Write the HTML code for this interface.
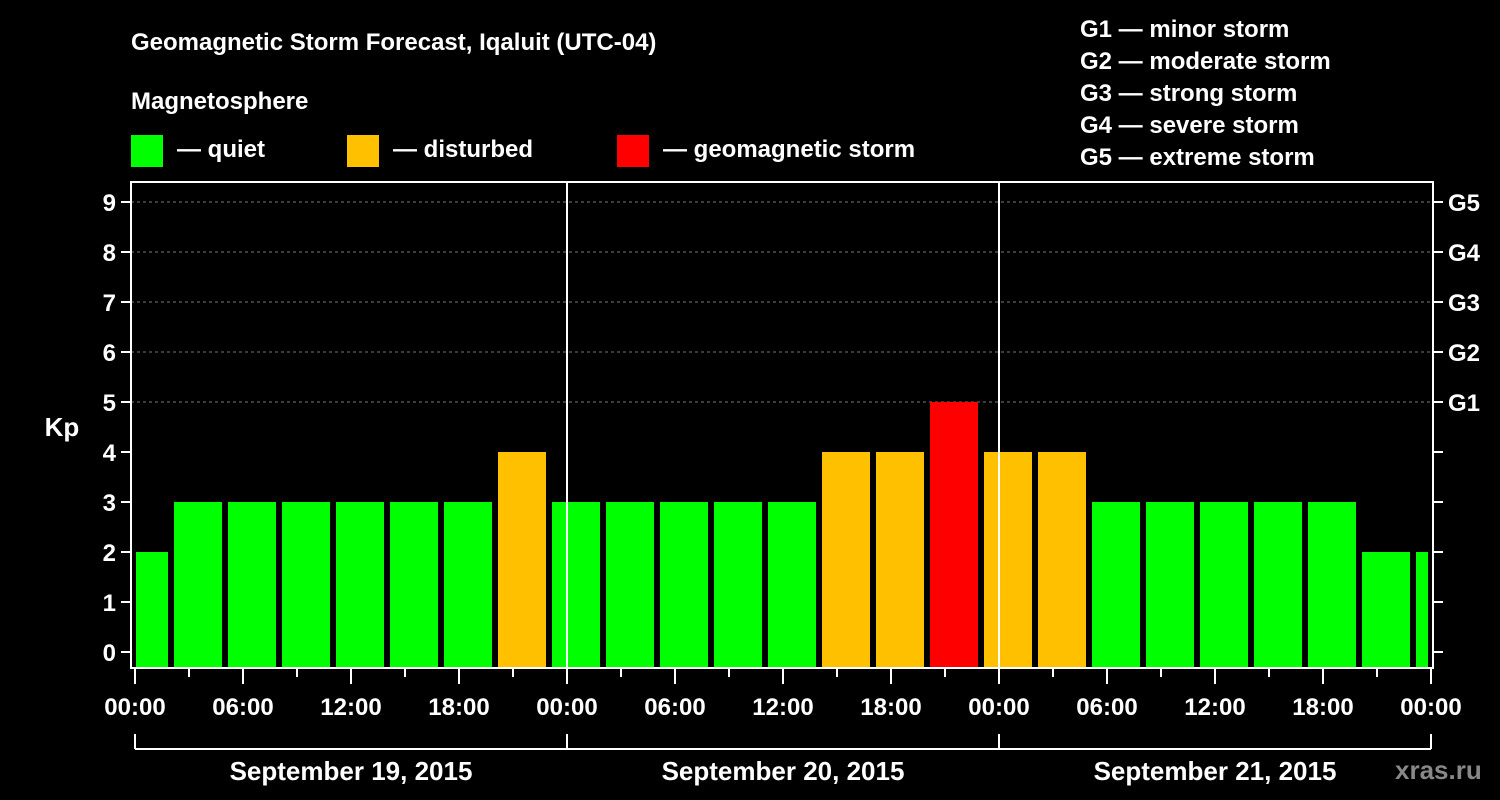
<!DOCTYPE html>
<html><head><meta charset="utf-8"><style>
body{margin:0;background:#000;}
svg{display:block;font-family:"Liberation Sans",sans-serif;font-weight:bold;}
</style></head><body>
<svg id="chart" width="1500" height="800" viewBox="0 0 1500 800">
<rect width="1500" height="800" fill="#000"/>
<text x="131" y="50" fill="#fff" font-size="24">Geomagnetic Storm Forecast, Iqaluit (UTC-04)</text>
<text x="131" y="109" fill="#fff" font-size="24">Magnetosphere</text>
<g><rect x="131" y="135" width="32" height="32" fill="#00ff00"/><text x="177" y="157" fill="#fff" font-size="24">— quiet</text></g>
<g><rect x="347" y="135" width="32" height="32" fill="#ffc000"/><text x="393" y="157" fill="#fff" font-size="24">— disturbed</text></g>
<g><rect x="617" y="135" width="32" height="32" fill="#ff0000"/><text x="663" y="157" fill="#fff" font-size="24">— geomagnetic storm</text></g>
<g fill="#fff" font-size="24">
<text x="1080" y="37">G1 — minor storm</text>
<text x="1080" y="69">G2 — moderate storm</text>
<text x="1080" y="101">G3 — strong storm</text>
<text x="1080" y="133">G4 — severe storm</text>
<text x="1080" y="165">G5 — extreme storm</text>
</g>
<text x="62" y="436" fill="#fff" font-size="26" text-anchor="middle">Kp</text>
<text x="1395" y="779" fill="#888" font-size="26">xras.ru</text>
<g id="grid"></g><g id="bars"></g><g id="axes"></g>
</svg>
<script>
const values=[2,3,3,3,3,3,3,4,3,3,3,3,3,4,4,5,4,4,3,3,3,3,3,2,2];
const yTicks=[0,1,2,3,4,5,6,7,8,9];
const gLabels=["G1","G2","G3","G4","G5"];
const xTickLabels=["00:00","06:00","12:00","18:00","00:00","06:00","12:00","18:00","00:00","06:00","12:00","18:00","00:00"];
const days=["September 19, 2015","September 20, 2015","September 21, 2015"];
const NS="http://www.w3.org/2000/svg";
const X0=135,PXH=18,Y0=652,PXK=50,L=131,R=1433,T=182,B=668;
const xs=h=>X0+h*PXH, ys=k=>Y0-k*PXK;
function mk(p,t,a){const e=document.createElementNS(NS,t);for(const k in a)e.setAttribute(k,a[k]);document.getElementById(p).appendChild(e);return e;}
// grid
for(let k=5;k<=9;k++){const l=mk('grid','line',{x1:L,x2:R,y1:ys(k),y2:ys(k),stroke:'#777','stroke-dasharray':'3,3'});

}
// bars
values.forEach((v,i)=>{let s=Math.max(0,-1+3*i),e=Math.min(72,2+3*i);
let x1=xs(s)+(s===0?1:3),x2=xs(e)-3;
const c=v>=5?'#ff0000':(v>=4?'#ffc000':'#00ff00');
const r=mk('bars','rect',{x:x1,y:ys(v),width:x2-x1,height:B-1-ys(v),fill:c});

});
// frame
const f=mk('axes','rect',{x:L,y:T,width:R-L,height:B-T,fill:'none',stroke:'#fff','stroke-width':2});


for(let d=1;d<3;d++){const l=mk('axes','line',{x1:xs(24*d),x2:xs(24*d),y1:T,y2:B,stroke:'#fff','stroke-width':2});

}
yTicks.forEach(k=>{mk('axes','line',{x1:L-10,x2:L,y1:ys(k),y2:ys(k),stroke:'#fff','stroke-width':2});
mk('axes','line',{x1:R,x2:R+10,y1:ys(k),y2:ys(k),stroke:'#fff','stroke-width':2});
const t=mk('axes','text',{x:116,y:ys(k)+9,fill:'#fff','font-size':24,'text-anchor':'end'});t.textContent=k;

});
gLabels.forEach((g,i)=>{const t=mk('axes','text',{x:1448,y:ys(5+i)+9,fill:'#fff','font-size':24});t.textContent=g;

});
for(let h=0;h<=72;h+=3){const maj=h%6===0;mk('axes','line',{x1:xs(h),x2:xs(h),y1:B,y2:B+(maj?16:9),stroke:'#fff','stroke-width':2});}
xTickLabels.forEach((s,i)=>{const t=mk('axes','text',{x:xs(6*i),y:715,fill:'#fff','font-size':24,'text-anchor':'middle'});t.textContent=s;

});
mk('axes','line',{x1:xs(0),x2:xs(72),y1:749,y2:749,stroke:'#fff','stroke-width':2});
for(let d=0;d<=3;d++)mk('axes','line',{x1:xs(24*d),x2:xs(24*d),y1:734,y2:749,stroke:'#fff','stroke-width':2});
days.forEach((s,i)=>{const t=mk('axes','text',{x:xs(24*i+12),y:780,fill:'#fff','font-size':26,'text-anchor':'middle'});t.textContent=s;

});
</script>
</body></html>
